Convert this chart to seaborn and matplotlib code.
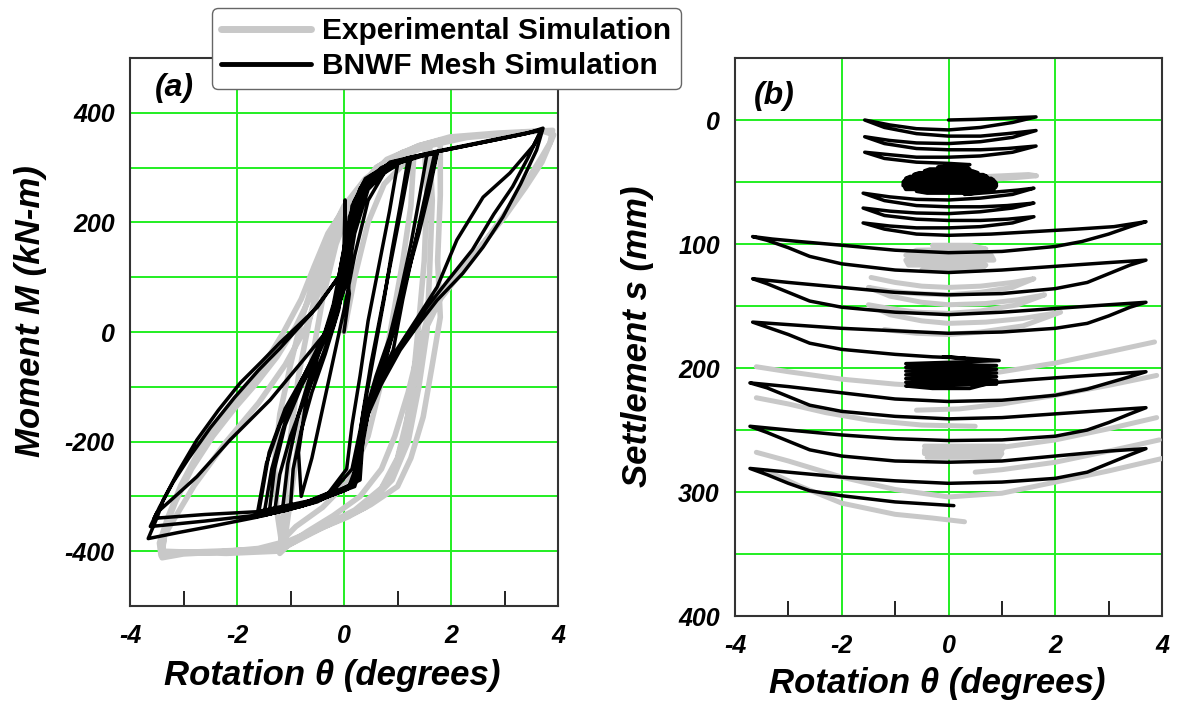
import numpy as np
import pandas as pd
import matplotlib
matplotlib.use("Agg")
import matplotlib.pyplot as plt
import seaborn as sns
from matplotlib.lines import Line2D

sns.set_theme(style="white")
plt.rcParams['font.family'] = ['Liberation Sans', 'DejaVu Sans']
plt.rcParams['axes.unicode_minus'] = False
plt.rcParams['text.color'] = 'black'
plt.rcParams['axes.labelcolor'] = 'black'
plt.rcParams['xtick.color'] = 'black'
plt.rcParams['ytick.color'] = 'black'

# ---------------- data ----------------
legend_labels = ["Experimental Simulation", "BNWF Mesh Simulation"]
x_ticks = [-4, -2, 0, 2, 4]
x_tick_labels = ["-4", "-2", "0", "2", "4"]
x_minor_ticks = [-3, -1, 1, 3]
a_y_grid = [-400, -300, -200, -100, 0, 100, 200, 300, 400]
a_y_labels = ["-400", "", "-200", "", "0", "", "200", "", "400"]
b_y_grid = [0, 50, 100, 150, 200, 250, 300, 350, 400]
b_y_labels = ["0", "", "100", "", "200", "", "300", "", "400"]

# (a) BNWF: rotation (deg), moment (kN-m)
bnwf_a = [
    (0.0, 0), (0.1, 70), (0.02, 131), (0.02, 241), (0.0, 150), (-0.2, 50), (-0.45, -30), (-0.7, -120),
    (-0.85, -220), (-0.8, -300), (-0.6, -230), (-0.4, -140), (-0.2, -50), (0.0, 40), (0.2, 140), (0.45, 240),
    (0.75, 290), (1.0, 305), (0.85, 220), (0.65, 120), (0.45, 20), (0.3, -80), (0.15, -170), (0.05, -250),
    (-0.3, -295), (-0.8, -315), (-1.15, -325), (-1.05, -240), (-0.85, -150), (-0.6, -70), (-0.3, 10),
    (-0.05, 100), (0.15, 190), (0.4, 260), (0.8, 298), (1.25, 318), (1.1, 240), (0.9, 140), (0.7, 40),
    (0.5, -60), (0.35, -150), (0.25, -230), (0.15, -280), (-0.4, -305), (-1.0, -322), (-1.4, -332),
    (-1.3, -250), (-1.1, -170), (-0.8, -100), (-0.5, -40), (-0.2, 30), (0.0, 120), (0.1, 200), (0.3, 262),
    (0.7, 300), (1.2, 318), (1.74, 326), (1.6, 260), (1.4, 180), (1.2, 110), (1.0, 30), (0.8, -40),
    (0.55, -110), (0.38, -160), (0.32, -220), (0.28, -265), (0.06, -285), (-0.6, -312), (-1.2, -328),
    (-1.63, -337), (-1.45, -240), (-1.2, -170), (-0.85, -105), (-0.5, -45), (-0.2, 20), (0.0, 110),
    (0.1, 210), (0.35, 270), (0.8, 305), (1.3, 320), (1.7, 328), (1.5, 240), (1.3, 150), (1.1, 60),
    (0.92, -33), (0.6, -100), (0.36, -148), (0.3, -246), (0.1, -280), (-0.5, -310), (-1.1, -326),
    (-1.6, -333), (-1.4, -220), (-1.1, -140), (-0.75, -80), (-0.4, -15), (-0.12, 40), (0.05, 140),
    (0.15, 230), (0.4, 280), (0.9, 310), (1.74, 328),
    (1.55, 250), (1.35, 170), (1.15, 90), (0.95, 10), (0.75, -60), (0.5, -130), (0.33, -190), (0.3, -250),
    (0.2, -282), (-0.3, -300), (-0.9, -320), (-1.5, -335), (-1.35, -250), (-1.15, -180), (-0.95, -120),
    (-0.65, -60), (-0.35, 0), (-0.1, 70), (0.05, 160), (0.2, 240), (0.5, 285), (1.0, 312), (1.55, 324),
    (1.4, 240), (1.25, 160), (1.05, 70), (0.85, -10), (0.6, -80), (0.42, -140), (0.35, -200), (0.3, -270),
    (-0.2, -295), (-0.8, -318), (-1.3, -330), (-1.2, -260), (-1.0, -190), (-0.75, -125), (-0.45, -55),
    (-0.2, 10), (0.0, 80), (0.1, 180), (0.3, 255), (0.7, 298), (1.2, 316),
    (1.05, 230), (0.9, 150), (0.75, 60), (0.6, -20), (0.45, -100), (0.3, -180), (0.15, -250), (-0.2, -290),
    (-0.7, -310), (-1.0, -318), (-0.95, -250), (-0.8, -180), (-0.6, -110), (-0.35, -40), (-0.1, 40),
    (0.05, 130), (0.2, 220), (0.5, 275), (0.9, 305), (1.45, 322), (1.74, 329),
    (2.3, 340), (2.9, 352), (3.4, 362), (3.72, 372),
    (3.6, 332), (3.3, 270), (2.97, 210), (2.6, 155), (2.22, 107), (1.74, 58), (1.4, 15), (1.05, -33),
    (0.7, -95), (0.45, -150), (0.32, -220), (0.25, -270), (0.06, -287), (-0.64, -313), (-1.63, -338),
    (-2.5, -355), (-3.1, -366), (-3.66, -377),
    (-3.5, -340), (-3.38, -307), (-3.1, -255), (-2.75, -197), (-2.35, -143), (-1.94, -93), (-1.55, -55),
    (-1.2, -20), (-0.5, 45), (0.11, 131), (0.2, 200), (0.4, 265), (0.86, 310), (1.74, 330), (2.4, 343),
    (3.0, 355), (3.45, 364), (3.7, 369),
    (3.54, 340), (3.1, 290), (2.6, 246), (2.11, 168), (1.74, 82), (1.4, 30), (1.0, -30), (0.6, -100),
    (0.35, -170), (0.25, -240), (0.1, -280), (-0.5, -305), (-1.63, -328), (-2.6, -333), (-3.55, -340),
    (-3.5, -330), (-3.1, -295), (-2.75, -264), (-2.13, -197), (-1.38, -124), (-0.76, -51), (-0.26, 9),
    (0.05, 90), (0.2, 180), (0.45, 260), (0.9, 305), (1.74, 329), (2.5, 344), (3.2, 358), (3.68, 368),
    (3.45, 320), (3.15, 265), (2.8, 215), (2.4, 150), (1.95, 95), (1.55, 45), (1.15, -10), (0.8, -70),
    (0.5, -130), (0.33, -200), (0.28, -260), (0.0, -290), (-0.8, -318), (-1.7, -335), (-2.6, -345),
    (-3.62, -355), (-3.45, -320), (-3.2, -275), (-2.9, -230), (-2.5, -175), (-2.05, -120), (-1.6, -70),
    (-1.2, -30), (-0.6, 35), (-0.1, 100), (0.05, 180), (0.2, 240),
]

# (a) Experimental: rotation (deg), moment (kN-m)
exp_a = [
    (0.0, 0), (0.2, 100), (0.45, 200), (0.75, 270), (1.1, 305), (1.3, 315),
    (1.25, 230), (1.1, 130), (0.9, 20), (0.7, -90), (0.45, -190), (0.1, -270), (-0.4, -320), (-0.9, -355),
    (-1.1, -375), (-0.95, -270), (-0.8, -160), (-0.6, -50), (-0.4, 60), (-0.15, 160), (0.2, 250), (0.6, 300),
    (1.1, 328), (1.5, 340), (1.55, 250), (1.5, 130), (1.4, 20), (1.3, -80), (1.15, -180), (0.95, -250),
    (0.6, -300), (0.1, -335), (-0.5, -360), (-1.0, -385), (-1.2, -404), (-1.1, -300), (-1.0, -190),
    (-0.85, -80), (-0.65, 20), (-0.4, 120), (-0.1, 200), (0.3, 265), (0.8, 315), (1.4, 340), (1.8, 350),
    (1.8, 250), (1.75, 130), (1.8, 27), (1.65, -60), (1.48, -155), (1.25, -230), (1.0, -282), (0.5, -315),
    (0.06, -338), (-0.6, -365), (-1.1, -392), (-1.6, -397), (-2.4, -400), (-3.0, -402), (-3.42, -408),
    (-3.45, -385), (-3.3, -340), (-3.05, -280), (-2.7, -215), (-2.3, -160), (-1.9, -110), (-1.5, -60),
    (-1.14, -2), (-0.8, 60), (-0.56, 119), (-0.3, 180), (0.02, 228), (0.37, 265), (0.62, 301), (0.95, 320),
    (1.4, 340), (1.98, 356), (2.88, 363), (3.5, 366), (3.9, 368),
    (3.85, 345), (3.7, 320), (3.35, 265), (3.0, 215), (2.6, 160), (2.2, 110), (1.8, 60), (1.55, 10),
    (1.35, -70), (1.2, -150), (1.0, -230), (0.7, -285), (0.2, -325), (-0.4, -355), (-1.0, -380),
    (-1.6, -395), (-2.4, -402), (-3.0, -405), (-3.4, -412),
    (-3.35, -360), (-3.15, -310), (-2.85, -250), (-2.45, -190), (-2.05, -140), (-1.65, -95), (-1.25, -45),
    (-0.9, 10), (-0.6, 70), (-0.3, 140), (0.0, 205), (0.4, 262), (0.9, 310), (1.5, 338), (2.3, 355),
    (3.1, 362), (3.7, 367), (3.92, 360),
    (3.7, 310), (3.4, 265), (3.0, 210), (2.5, 150), (2.0, 95), (1.6, 40), (1.4, -30), (1.2, -110),
    (0.95, -190), (0.7, -250), (0.3, -300), (-0.2, -335), (-0.7, -365), (-1.15, -395),
    (-1.25, -330), (-1.3, -240), (-1.2, -150), (-1.0, -60), (-0.8, 20), (-0.55, 100), (-0.3, 170),
    (0.0, 230), (0.4, 280), (1.0, 322), (1.6, 342), (1.65, 240), (1.6, 110), (1.55, 0), (1.4, -100),
    (1.2, -200), (0.9, -270), (0.4, -320), (-0.3, -352), (-0.9, -382), (-1.25, -400), (-2.2, -404),
    (-3.4, -400), (-3.35, -370), (-2.8, -280), (-2.2, -200), (-1.6, -130), (-1.1, -60), (-0.7, 10),
    (-0.45, 80), (-0.2, 160), (0.1, 220),
]

# (b) BNWF: rotation (deg), settlement (mm)
bnwf_b = [
    (0.0, 0), (0.5, -0.5), (1.1, -1.5), (1.64, -2.5),
    (1.2, 2), (0.6, 6), (0.0, 8), (-0.6, 7), (-1.1, 4), (-1.57, 0),
    (-1.2, 6), (-0.6, 11), (0.0, 13), (0.6, 13), (1.1, 11), (1.64, 8.5),
    (1.2, 14), (0.6, 17.5), (0.0, 19), (-0.6, 18.5), (-1.1, 16.5), (-1.57, 13.5),
    (-1.2, 19), (-0.6, 23), (0.0, 24), (0.6, 24), (1.1, 23), (1.64, 21),
    (1.2, 26), (0.6, 29), (0.0, 30), (-0.6, 30), (-1.1, 28), (-1.57, 26),
    (-1.2, 31), (-0.6, 34), (0.0, 35), (0.4, 36),
    (-0.2, 38), (0.3, 38), (0.4, 39.5), (-0.35, 39.5), (-0.45, 41), (0.45, 41), (0.55, 42.5), (-0.55, 42.5),
    (-0.65, 44), (0.65, 44), (0.72, 45.5), (-0.72, 45.5), (-0.8, 47), (0.8, 47), (0.85, 48.5), (-0.82, 48.5),
    (-0.85, 50), (0.88, 50), (0.9, 51.5), (-0.85, 51.5), (-0.85, 53), (0.9, 53), (0.88, 54.5), (-0.82, 54.5),
    (-0.8, 56), (0.85, 56), (0.7, 57.5), (-0.6, 57.5), (-0.4, 59), (0.5, 59), (0.3, 60),
    (0.9, 58), (1.3, 56.5), (1.6, 55),
    (1.2, 60), (0.6, 63), (0.0, 64.5), (-0.6, 64), (-1.1, 62), (-1.6, 59),
    (-1.2, 65), (-0.6, 69), (0.0, 70), (0.6, 70), (1.1, 69), (1.6, 67),
    (1.2, 71), (0.6, 74), (0.0, 75.5), (-0.6, 75), (-1.1, 73.5), (-1.6, 71),
    (-1.2, 77), (-0.6, 80), (0.0, 81), (0.6, 81), (1.1, 80), (1.6, 78),
    (1.2, 83), (0.6, 86), (0.0, 87), (-0.6, 87), (-1.1, 85.5), (-1.6, 83),
    (-1.2, 88), (-0.6, 92), (0.0, 93), (0.8, 92), (1.6, 90), (2.4, 88), (3.1, 86), (3.7, 82),
    (3.4, 86), (3.0, 92), (2.5, 98), (2.0, 102), (1.0, 106), (0.0, 107), (-1.0, 105), (-2.0, 101),
    (-2.8, 98), (-3.3, 96), (-3.67, 94),
    (-3.4, 97), (-3.0, 103), (-2.6, 110), (-2.0, 116), (-1.0, 121), (0.0, 123), (1.0, 121), (2.0, 118),
    (3.0, 115), (3.7, 113),
    (3.4, 117), (3.0, 124), (2.6, 131), (2.0, 136), (1.0, 140), (0.0, 141), (-1.0, 139), (-2.0, 135),
    (-3.0, 131), (-3.67, 128),
    (-3.4, 132), (-3.0, 139), (-2.6, 146), (-2.0, 151), (-1.0, 155), (0.0, 157), (1.0, 155), (2.0, 152),
    (3.0, 149), (3.7, 147),
    (3.4, 151), (3.0, 158), (2.6, 164), (2.0, 168), (1.0, 171), (0.0, 172), (-1.0, 170), (-2.0, 168),
    (-3.0, 165), (-3.67, 163),
    (-3.4, 167), (-3.0, 173), (-2.6, 180), (-2.0, 185), (-1.0, 189), (-0.3, 191), (0.3, 192),
    (-0.1, 191), (0.3, 192), (0.95, 194), (0.3, 195), (-0.8, 196.5), (0.9, 198), (-0.8, 199.5), (0.9, 201),
    (-0.8, 202.5), (0.9, 204), (-0.8, 205.5), (0.9, 207), (-0.8, 208.5), (0.9, 210), (-0.8, 211.5),
    (0.9, 213), (-0.8, 214.5), (-0.3, 216.5), (0.4, 216.5), (0.8, 212),
    (1.5, 209.5), (2.3, 207), (3.0, 205), (3.7, 203),
    (3.4, 207), (3.0, 212), (2.6, 217), (2.0, 222), (1.0, 226), (0.0, 227), (-1.0, 225), (-2.0, 220),
    (-3.0, 215), (-3.72, 212),
    (-3.4, 216), (-3.0, 223), (-2.6, 230), (-2.0, 235), (-1.0, 239), (0.0, 241), (1.0, 240), (2.0, 237),
    (3.0, 234), (3.7, 232),
    (3.4, 237), (3.0, 244), (2.6, 250), (2.0, 255), (1.0, 258), (0.0, 258.5), (-1.0, 257), (-2.0, 254),
    (-3.0, 250), (-3.72, 247),
    (-3.4, 252), (-3.0, 259), (-2.6, 266), (-2.0, 271), (-1.0, 275), (0.0, 276), (1.0, 275), (2.0, 271),
    (3.0, 267), (3.7, 265),
    (3.4, 270), (3.0, 277), (2.6, 284), (2.0, 289), (1.0, 292), (0.0, 293), (-1.0, 291), (-2.0, 288),
    (-3.0, 284), (-3.72, 281),
    (-3.4, 286), (-3.0, 293), (-2.6, 299), (-2.0, 303), (-1.0, 308), (0.1, 311),
]

# (b) Experimental pieces: rotation (deg), settlement (mm)
exp_b_top = [(0.5, 46), (1.0, 45), (1.5, 44), (1.65, 45), (1.1, 47), (0.7, 48)]
exp_b_blob1 = [(-0.3, 101), (0.4, 101), (0.7, 104), (-0.6, 105), (-0.8, 109), (0.8, 109), (0.85, 113),
               (-0.8, 113), (-0.75, 117), (0.7, 117), (0.6, 121), (-0.5, 121)]
exp_b_mid = [(-1.45, 127), (-1.0, 131), (-0.5, 134), (0.0, 135), (0.6, 134), (1.2, 131), (1.6, 128),
             (1.2, 135), (0.6, 139), (0.0, 141), (-0.6, 140), (-1.1, 138), (-1.5, 135),
             (-1.1, 142), (-0.5, 147), (0.0, 149), (0.7, 148), (1.3, 145), (1.8, 141),
             (1.3, 149), (0.6, 154), (0.0, 156), (-0.6, 155), (-1.1, 152), (-1.5, 149),
             (-1.1, 157), (-0.5, 162), (0.0, 164), (0.7, 163), (1.4, 160), (2.1, 155),
             (1.4, 166), (0.6, 171), (0.0, 173), (-0.6, 172), (-1.2, 169)]
exp_b_right1 = [(0.4, 207), (1.0, 203), (2.0, 196), (3.0, 187), (3.86, 179)]
exp_b_left1 = [(-3.6, 199), (-3.0, 203), (-2.0, 209), (-1.0, 213), (-0.6, 214)]
exp_b_left2 = [(-3.6, 224), (-3.0, 229), (-2.3, 236), (-1.5, 242), (-0.5, 246), (0.5, 247)]
exp_b_right2 = [(-0.6, 234), (0.2, 233), (1.0, 229), (2.0, 222), (3.0, 214), (3.9, 206)]
exp_b_right3 = [(0.4, 266), (1.0, 264), (2.0, 258), (3.0, 249), (3.9, 240)]
exp_b_right4 = [(0.5, 284), (1.0, 282), (2.0, 276), (3.0, 267), (3.95, 258)]
exp_b_low1 = [(-3.6, 268), (-3.0, 275), (-2.0, 288), (-1.0, 298), (0.0, 304), (1.0, 301), (2.0, 292),
              (3.0, 283), (4.0, 273)]
exp_b_low2 = [(-3.4, 283), (-2.8, 295), (-2.0, 309), (-1.0, 318), (-0.3, 321), (0.3, 324)]
exp_b_blob2 = [(-0.45, 263), (1.05, 263), (1.0, 266), (-0.45, 266), (-0.45, 269), (1.0, 269),
               (0.95, 272), (-0.4, 272)]


def to_df(*segments):
    rows = []
    for k, seg in enumerate(segments):
        for x, y in seg:
            rows.append((k, x, y))
    return pd.DataFrame(rows, columns=["seg", "theta", "val"])


GRAY = "#c8c8c8"
BLACK = "#000000"
GRID = "#22ee22"
W, H = 1180, 704

fig = plt.figure(figsize=(W / 100, H / 100), dpi=100)
axA = fig.add_axes([130 / W, 1 - 606 / H, 428 / W, 548 / H])
axB = fig.add_axes([735 / W, 1 - 616 / H, 427 / W, 558 / H])


def draw(ax, df, color, lw, z):
    sns.lineplot(data=df, x="theta", y="val", units="seg", estimator=None, sort=False,
                 color=color, lw=lw, ax=ax, legend=False, zorder=z,
                 solid_joinstyle="round", solid_capstyle="round")


draw(axA, to_df(exp_a), GRAY, 4.0, 3)
draw(axA, to_df(bnwf_a), BLACK, 2.5, 4)
draw(axB, to_df(exp_b_top, exp_b_blob1, exp_b_mid, exp_b_right1, exp_b_left1, exp_b_left2,
                exp_b_right2, exp_b_right3, exp_b_right4, exp_b_low1, exp_b_low2, exp_b_blob2),
     GRAY, 3.6, 3)
draw(axB, to_df(bnwf_b), BLACK, 2.5, 4)

tick_font = dict(fontsize=18, fontweight="bold", fontstyle="italic", color="black")


def style(ax, ylim, ygrid, ylabels):
    ax.set_xlim(-4, 4)
    ax.set_ylim(*ylim)
    ax.set_xticks(x_ticks)
    ax.set_xticklabels(x_tick_labels, **tick_font)
    ax.set_xticks(x_minor_ticks, minor=True)
    ax.set_yticks(ygrid)
    ax.set_yticklabels(ylabels, **tick_font)
    ax.set_xlabel("")
    ax.set_ylabel("")
    ax.set_axisbelow(True)
    ax.grid(True, which="major", color=GRID, lw=1.4)
    ax.tick_params(axis="both", which="major", length=0)
    ax.tick_params(axis="x", which="major", pad=13)
    ax.tick_params(axis="y", which="major", pad=11)
    ax.tick_params(axis="x", which="minor", direction="in", length=11, width=1.4,
                   bottom=True, top=False, color="#222222")
    for sp in ax.spines.values():
        sp.set_color("#333333")
        sp.set_linewidth(1.5)
        sp.set_visible(True)


style(axA, (-500, 500), a_y_grid, a_y_labels)
style(axB, (400, -50), b_y_grid, b_y_labels)

axA.text(0.058, 0.945, "(a)", transform=axA.transAxes, fontsize=23, fontweight="bold",
         fontstyle="italic", ha="left", va="center")
axB.text(0.045, 0.932, "(b)", transform=axB.transAxes, fontsize=23, fontweight="bold",
         fontstyle="italic", ha="left", va="center")

lab_font = dict(fontsize=25, fontweight="bold", fontstyle="italic", ha="center", va="center",
                color="black")
fig.text(31 / W, 1 - 311 / H, "Moment M (kN-m)", rotation=90, **lab_font)
fig.text(332 / W, 1 - 676 / H, "Rotation θ (degrees)", **lab_font)
fig.text(637 / W, 1 - 336 / H, "Settlement s (mm)", rotation=90, **lab_font)
fig.text(937 / W, 1 - 684 / H, "Rotation θ (degrees)", **lab_font)

handles = [Line2D([], [], color=GRAY, lw=5), Line2D([], [], color=BLACK, lw=3.5)]
leg = fig.legend(handles, legend_labels, loc="upper left", bbox_to_anchor=(212 / W, 1 - 8 / H),
                 frameon=True, fancybox=True, framealpha=1, edgecolor="#666666",
                 prop=dict(size=21.5, weight="bold"), handlelength=3.0, handletextpad=0.4,
                 labelspacing=0.25, borderpad=0.3, borderaxespad=0)
leg.get_frame().set_linewidth(1.0)
for t in leg.get_texts():
    t.set_color("black")

fig.savefig("out.png", dpi=100)
